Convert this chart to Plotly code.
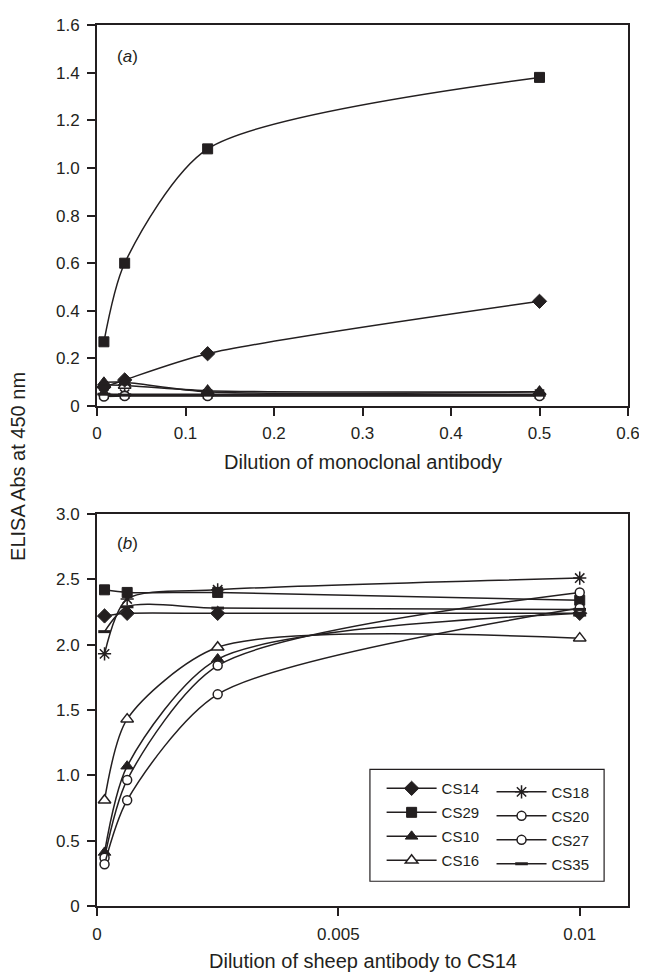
import plotly.graph_objects as go
from plotly.subplots import make_subplots

# ---------------- data ----------------
# Panel (a): dilution of monoclonal antibody
dil_a = [0.0078125, 0.03125, 0.125, 0.5]
a_CS14 = [0.08, 0.11, 0.22, 0.44]
a_CS29 = [0.27, 0.60, 1.08, 1.38]
a_CS10 = [0.10, 0.10, 0.06, 0.06]
a_CS16 = [0.09, 0.087, 0.065, 0.06]
a_CS18 = [0.05, 0.05, 0.05, 0.05]
a_CS20 = [0.045, 0.045, 0.045, 0.045]
a_CS27 = [0.04, 0.042, 0.042, 0.042]
a_CS35 = [0.05, 0.046, 0.046, 0.046]

# Panel (b): dilution of sheep antibody to CS14
dil_b = [0.00015625, 0.000625, 0.0025, 0.01]
b_CS14 = [2.22, 2.24, 2.24, 2.24]
b_CS29 = [2.42, 2.40, 2.40, 2.34]
b_CS10 = [0.41, 1.07, 1.89, 2.24]
b_CS16 = [0.81, 1.43, 1.98, 2.05]
b_CS18 = [1.93, 2.35, 2.42, 2.51]
b_CS20 = [0.37, 0.965, 1.84, 2.40]
b_CS27 = [0.32, 0.81, 1.62, 2.28]
b_CS35 = [2.10, 2.29, 2.28, 2.27]

names = ["CS14", "CS29", "CS10", "CS16", "CS18", "CS20", "CS27", "CS35"]
series_a = dict(CS14=a_CS14, CS29=a_CS29, CS10=a_CS10, CS16=a_CS16,
                CS18=a_CS18, CS20=a_CS20, CS27=a_CS27, CS35=a_CS35)
series_b = dict(CS14=b_CS14, CS29=b_CS29, CS10=b_CS10, CS16=b_CS16,
                CS18=b_CS18, CS20=b_CS20, CS27=b_CS27, CS35=b_CS35)
draw_order_a = ["CS16", "CS18", "CS20", "CS27", "CS35", "CS14", "CS29", "CS10"]

ticks_a_x = [0, 0.1, 0.2, 0.3, 0.4, 0.5, 0.6]
ticks_a_x_text = ["0", "0.1", "0.2", "0.3", "0.4", "0.5", "0.6"]
ticks_a_y = [0, 0.2, 0.4, 0.6, 0.8, 1.0, 1.2, 1.4, 1.6]
ticks_a_y_text = ["0", "0.2", "0.4", "0.6", "0.8", "1.0", "1.2", "1.4", "1.6"]
ticks_b_x = [0, 0.005, 0.01]
ticks_b_x_text = ["0", "0.005", "0.01"]
ticks_b_y = [0, 0.5, 1.0, 1.5, 2.0, 2.5, 3.0]
ticks_b_y_text = ["0", "0.5", "1.0", "1.5", "2.0", "2.5", "3.0"]

# ---------------- styles ----------------
BLK = "#231f20"
styles = {
    "CS14": dict(symbol="diamond", size=11, color=BLK, line=dict(color=BLK, width=1)),
    "CS29": dict(symbol="square", size=10, color=BLK, line=dict(color=BLK, width=1)),
    "CS10": dict(symbol="triangle-up", size=11, color=BLK, line=dict(color=BLK, width=1)),
    "CS16": dict(symbol="triangle-up", size=11, color="white", line=dict(color=BLK, width=1.5)),
    "CS18": dict(symbol="asterisk-open", size=11, color=BLK, line=dict(color=BLK, width=1.5)),
    "CS20": dict(symbol="circle", size=9, color="white", line=dict(color=BLK, width=1.5)),
    "CS27": dict(symbol="circle", size=9, color="white", line=dict(color=BLK, width=1.5)),
    "CS35": dict(symbol="line-ew-open", size=9, color=BLK, line=dict(color=BLK, width=3)),
}
legend_of = {"CS14": "legend", "CS29": "legend", "CS10": "legend", "CS16": "legend",
             "CS18": "legend2", "CS20": "legend2", "CS27": "legend2", "CS35": "legend2"}
SMOOTH = 0.75

# Page is offset 8px by the browser's body margin; the figure is sized to fit.
W, H = 640, 970
fig = make_subplots(rows=2, cols=1, vertical_spacing=0.1225)
fig.update_layout(
    yaxis=dict(domain=[0.5674, 1.0]),
    yaxis2=dict(domain=[0.0, 0.4449]),
)

for nm in draw_order_a:
    fig.add_trace(go.Scatter(
        x=dil_a, y=series_a[nm], mode="lines+markers", name=nm, showlegend=False,
        line=dict(color=BLK, width=1.5, shape="spline", smoothing=SMOOTH),
        marker=styles[nm]), row=1, col=1)

for nm in names:
    fig.add_trace(go.Scatter(
        x=dil_b, y=series_b[nm], mode="lines+markers", name=nm, showlegend=True,
        legend=legend_of[nm], legendgroup=nm,
        line=dict(color=BLK, width=1.5, shape="spline", smoothing=SMOOTH),
        marker=styles[nm]), row=2, col=1)

axis_common = dict(showline=True, linecolor=BLK, linewidth=2, mirror=True,
                   ticks="outside", ticklen=8, tickwidth=2, tickcolor=BLK,
                   showgrid=False, zeroline=False,
                   tickfont=dict(family="Liberation Sans, Arial", size=17, color=BLK))

fig.update_xaxes(range=[0, 0.6], tickvals=ticks_a_x, ticktext=ticks_a_x_text,
                 ticklabelstandoff=2, ticklabeloverflow="allow", **axis_common, row=1, col=1)
fig.update_yaxes(range=[0, 1.6], tickvals=ticks_a_y, ticktext=ticks_a_y_text,
                 ticklabelstandoff=4, **axis_common, row=1, col=1)
fig.update_xaxes(range=[0, 0.011], tickvals=ticks_b_x, ticktext=ticks_b_x_text,
                 ticklabelstandoff=4, ticklabeloverflow="allow", **axis_common, row=2, col=1)
fig.update_yaxes(range=[0, 3.0], tickvals=ticks_b_y, ticktext=ticks_b_y_text,
                 ticklabelstandoff=4, **axis_common, row=2, col=1)

legend_common = dict(bgcolor="rgba(0,0,0,0)", borderwidth=0,
                     font=dict(family="Liberation Sans, Arial", size=15, color=BLK),
                     itemwidth=50, tracegroupgap=1.5, xanchor="left", yanchor="top",
                     orientation="v")
fig.update_layout(
    legend=dict(x=0.536, y=0.152, **legend_common),
    legend2=dict(x=0.743, y=0.148, **legend_common),
)

fig.add_shape(type="rect", xref="paper", yref="paper",
              x0=0.514, x1=0.955, y0=0.0281, y1=0.155,
              line=dict(color=BLK, width=1.2), fillcolor="rgba(0,0,0,0)")

font_txt = dict(family="Liberation Sans, Arial", color=BLK)
fig.add_annotation(text="(<i>a</i>)", xref="paper", yref="paper", x=0.0336, y=0.964,
                   xanchor="left", yanchor="middle", showarrow=False, font=dict(size=17, **font_txt))
fig.add_annotation(text="(<i>b</i>)", xref="paper", yref="paper", x=0.0336, y=0.412,
                   xanchor="left", yanchor="middle", showarrow=False, font=dict(size=17, **font_txt))
fig.add_annotation(text="Dilution of monoclonal antibody", xref="paper", yref="paper",
                   x=0.5, y=0.5045, xanchor="center", yanchor="middle", showarrow=False,
                   font=dict(size=20, **font_txt))
fig.add_annotation(text="Dilution of sheep antibody to CS14", xref="paper", yref="paper",
                   x=0.5, y=-0.0629, xanchor="center", yanchor="middle", showarrow=False,
                   font=dict(size=20, **font_txt))
fig.add_annotation(text="ELISA Abs at 450 nm", xref="paper", yref="paper",
                   x=-0.1477, y=0.499, xanchor="center", yanchor="middle", textangle=-90,
                   showarrow=False, font=dict(size=20, **font_txt))

fig.update_layout(
    width=W, height=H,
    margin=dict(l=89, r=16, t=8, b=72),
    paper_bgcolor="white", plot_bgcolor="white",
    font=dict(family="Liberation Sans, Arial", color=BLK),
)

fig.write_html("out.html")
